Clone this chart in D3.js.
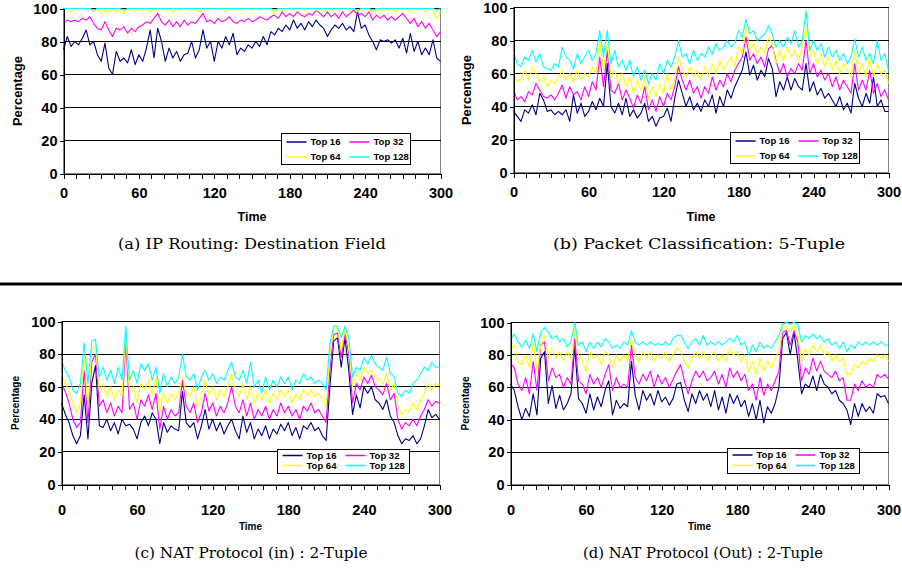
<!DOCTYPE html>
<html>
<head>
<meta charset="utf-8">
<script src="https://cdnjs.cloudflare.com/ajax/libs/d3/7.8.5/d3.min.js"></script>
<style>
body { margin: 0; background: #fff; }
svg { display: block; }
.tick text { font-family: Arial, "Liberation Sans", sans-serif; font-weight: bold; fill: #000; }
</style>
</head>
<body>
<svg id="chart" width="902" height="569"></svg>
<script>
// samples every 3 time units, 0..300
var time = d3.range(0, 301, 3);
var yTicks = [0, 20, 40, 60, 80, 100];
var xLabels = [0, 60, 120, 180, 240, 300];
var seriesNames = ["Top 16", "Top 32", "Top 64", "Top 128"];
var seriesColors = ["#000080", "#ff00ff", "#ffff00", "#00ffff"];

// (a) IP routing
var ipTop16 = [75,83,77,80,78,82,87,78,80,72, 68,79,64,60,74,68,70,67,75,66, 72,68,76,87,70,88,80,68,76,70,
  74,68,72,73,80,70,75,87,76,80, 68,80,76,83,78,85,72,76,74,78, 76,80,77,83,78,86,84,88,86,90,
  87,93,88,91,87,92,89,93,90,88, 83,87,90,88,91,87,89,86,98,88, 90,84,80,75,81,80,81,79,81,76,
  82,73,85,74,80,72,76,72,81,70, 68];
var ipTop32 = [91,93,92,93,92,94,93,95,91,88, 87,92,87,83,88,87,89,85,88,86, 89,90,92,91,94,97,92,90,93,89,
  92,89,93,90,92,91,94,97,92,93, 91,94,92,93,95,92,91,93,92,94, 92,93,95,94,93,95,96,94,98,95,
  97,95,98,96,95,97,96,99,97,95, 98,95,97,94,98,95,97,99,96,97, 95,98,93,96,94,96,93,95,93,95,
  97,94,91,94,89,92,88,91,87,83, 86];
var ipTop64 = [99,100,98,100,99,100,99,100,98,100, 97,99,98,100,98,99,97,100,99,98, 100,99,100,98,100,99,100,99,100,98,
  100,99,100,100,99,100,98,100,99,100, 100,99,100,98,100,99,100,99,100,100, 99,100,99,100,100,99,97,100,99,100,
  100,99,100,100,99,100,100,99,100,98, 100,99,100,99,100,100,99,100,98,100, 99,100,97,100,99,100,99,100,98,100,
  99,100,98,100,99,100,98,100,99,94, 98];
var ipTop128 = [100,100,100,100,100,100,100,100,99,100, 100,100,100,100,100,100,99,100,100,100, 100,100,100,100,100,100,100,100,100,100,
  100,100,100,100,100,100,100,100,100,100, 100,100,100,100,100,100,100,100,100,100, 100,100,100,100,100,100,99,100,100,100,
  100,100,100,100,100,100,100,100,100,100, 100,100,100,100,100,100,100,100,99,100, 100,100,99,100,100,100,100,100,100,100,
  100,100,100,100,100,100,100,100,100,99, 100];

// (b) packet classification
var pcTop16 = [37,34,31,38,36,41,35,48,44,37, 38,35,37,35,38,31,47,36,42,34, 37,43,38,45,40,66,40,36,42,35,
  45,34,38,33,36,42,31,34,28,33, 34,39,31,45,56,48,40,46,38,42, 37,44,40,47,36,46,40,50,45,52,
  57,62,73,59,65,56,62,58,69,63, 46,55,50,58,50,57,52,50,66,49, 55,47,51,45,48,44,40,46,38,42,
  36,54,45,40,48,42,58,40,44,37, 37];
var pcTop32 = [50,44,46,43,49,47,54,50,46,45, 47,44,48,53,45,52,47,49,44,52, 46,55,50,70,52,74,50,48,54,44,
  50,45,39,47,42,52,38,44,37,46, 40,48,44,52,64,56,50,56,48,52, 45,52,48,58,50,56,52,60,55,62,
  66,70,82,68,72,66,70,64,75,77, 68,60,66,58,63,60,66,62,80,60, 66,58,62,56,60,52,58,50,56,52,
  48,66,50,56,50,62,48,54,46,50, 44];
var pcTop64 = [60,55,57,62,56,64,60,55,58,52, 56,54,58,62,56,60,55,62,56,60, 58,64,60,80,62,78,58,62,54,60,
  52,58,48,56,50,58,44,52,46,54, 48,60,50,56,70,62,58,64,58,62, 56,64,58,66,60,68,62,66,70,64,
  76,72,88,74,78,72,76,72,82,78, 66,74,68,76,70,74,68,76,88,70, 74,66,72,64,70,62,68,60,66,62,
  58,74,60,66,58,70,58,66,60,62, 54];
var pcTop128 = [73,66,64,70,68,74,67,72,64,63, 62,66,64,76,70,68,63,72,66,70, 74,68,72,86,70,86,66,74,64,68,
  62,68,58,64,56,62,54,60,56,66, 60,68,64,70,80,70,72,66,74,68, 72,70,76,72,78,74,76,80,76,78,
  86,82,93,84,86,80,82,84,89,84, 76,80,76,82,78,86,76,80,98,74, 80,74,78,70,76,70,74,68,72,66,
  70,81,70,76,68,72,66,80,68,72, 62];

// (c) NAT protocol in
var natInTop16 = [50,43,38,30,25,30,55,28,62,73, 36,35,40,33,38,31,40,36,37,34, 28,38,42,36,44,40,25,38,32,36,
  34,33,57,38,35,38,28,36,46,34, 40,33,38,31,36,40,33,28,42,32, 38,28,34,30,36,28,34,31,37,33,
  38,30,35,28,36,34,38,33,35,30, 27,60,88,90,72,90,70,43,55,47, 60,56,60,52,50,46,52,42,38,30,
  25,28,27,30,25,28,36,46,41,43, 40];
var natInTop32 = [62,57,50,40,35,38,70,38,75,80, 48,52,44,50,42,48,44,88,46,50, 40,52,48,55,46,56,34,48,40,46,
  42,44,64,48,44,50,38,44,56,45, 50,42,48,44,50,60,48,44,52,42, 50,40,46,42,48,40,46,42,50,44,
  48,42,46,40,48,45,50,44,46,42, 38,70,92,93,78,93,80,50,62,58, 66,62,67,60,58,55,62,52,56,40,
  34,38,36,40,36,42,46,52,48,51, 50];
var natInTop64 = [68,62,58,50,44,50,78,48,82,85, 58,62,54,60,52,58,54,92,56,60, 50,62,58,64,55,66,44,56,50,56,
  52,56,66,56,54,60,48,54,64,55, 60,52,58,54,60,68,58,54,62,52, 60,50,56,52,58,50,56,52,58,54,
  58,50,56,52,58,55,58,54,56,52, 48,80,95,96,82,95,84,60,68,64, 72,68,70,66,64,62,68,58,62,48,
  43,46,45,50,46,52,56,62,58,62, 61];
var natInTop128 = [76,70,66,58,56,62,87,62,88,89, 66,72,64,70,62,72,64,97,64,70, 62,74,70,74,64,72,56,68,60,66,
  62,66,80,66,64,68,58,66,70,64, 68,62,66,64,70,75,66,64,70,62, 75,60,64,56,66,58,64,60,66,62,
  66,58,64,62,68,64,66,62,64,62, 58,86,97,97,90,97,90,66,72,70, 78,74,79,74,72,70,78,68,66,56,
  54,58,56,62,64,68,72,70,75,72, 72];

// (d) NAT protocol out
var natOutTop16 = [62,58,48,40,47,42,56,43,78,82, 50,61,47,55,46,50,56,85,53,50, 44,56,46,54,48,58,64,43,52,47,
  50,48,76,55,46,58,52,56,49,58, 51,54,49,53,62,63,52,45,56,50, 58,52,56,48,58,46,54,44,56,50,
  55,48,52,42,50,40,52,38,48,44, 50,60,90,94,80,94,77,56,62,60, 67,58,68,62,60,56,58,52,50,46,
  37,50,42,50,45,48,44,56,54,55, 50];
var natOutTop32 = [75,72,62,58,66,56,76,58,86,88, 64,72,66,68,60,66,62,90,64,62, 56,68,62,66,60,68,74,58,66,60,
  62,60,86,66,62,68,64,70,60,68, 62,66,60,65,70,74,64,56,64,70, 66,70,64,66,70,62,68,60,72,66,
  70,64,68,58,62,52,66,55,62,58, 64,70,94,95,86,95,88,64,72,68, 78,70,76,70,68,66,70,64,66,52,
  52,62,58,64,60,62,60,68,66,68, 65];
var natOutTop64 = [84,86,76,74,80,72,88,70,86,92, 78,84,78,82,76,82,78,96,80,76, 70,82,78,80,74,82,80,72,80,76,
  80,76,90,80,76,82,78,82,76,80, 78,82,76,80,84,82,76,72,78,82, 78,82,76,80,82,76,80,76,84,80,
  82,76,80,70,76,68,78,70,76,72, 78,82,97,98,94,98,93,76,84,80, 86,82,86,80,82,76,80,76,78,68,
  68,74,72,76,74,78,76,80,78,80, 76];
var natOutTop128 = [90,93,88,85,89,84,93,82,94,97, 94,90,92,88,90,85,88,100,86,88, 82,88,84,88,85,90,88,84,86,84,
  88,86,95,88,86,88,86,88,86,87, 86,88,86,90,92,92,88,84,88,90, 86,92,86,88,86,88,86,88,90,88,
  92,86,88,80,86,82,88,84,86,84, 88,92,99,100,99,100,99,88,92,90, 93,90,92,88,90,86,88,84,88,82,
  86,84,88,86,88,86,88,86,88,86, 86];

var svg = d3.select("#chart");

var panels = [
  { series: [ipTop16, ipTop32, ipTop64, ipTop128], caption: "(a) IP Routing: Destination Field",
    left: 63.5, right: 440.5, top: 8.5, bottom: 173.5, tickPad: 9.5, yLabelX: 17, yLabelSize: 13,
    timeY: 217, timeSize: 12.5, captionY: 249, captionX: 252, captionW: 268,
    legend: { x: 281.5, y: 133.5, w: 129, h: 31, r1: 142, r2: 157 } },
  { series: [pcTop16, pcTop32, pcTop64, pcTop128], caption: "(b) Packet Classification: 5-Tuple",
    left: 513.5, right: 888.5, top: 7.5, bottom: 172.5, tickPad: 9.5, yLabelX: 466, yLabelSize: 13,
    timeY: 217, timeSize: 12.5, captionY: 249, captionX: 699, captionW: 292,
    legend: { x: 730.5, y: 132.5, w: 129, h: 31, r1: 141, r2: 156 } },
  { series: [natInTop16, natInTop32, natInTop64, natInTop128], caption: "(c) NAT Protocol (in) : 2-Tuple",
    left: 61.5, right: 439.5, top: 321.5, bottom: 484.5, tickPad: 15, yLabelX: 15.5, yLabelSize: 10,
    timeY: 526, timeSize: 10, captionY: 558, captionX: 251, captionW: 233,
    legend: { x: 277.5, y: 449.5, w: 132, h: 24, r1: 455.5, r2: 465.5 } },
  { series: [natOutTop16, natOutTop32, natOutTop64, natOutTop128], caption: "(d) NAT Protocol (Out) : 2-Tuple",
    left: 510.5, right: 888.5, top: 322.5, bottom: 484.5, tickPad: 15, yLabelX: 465, yLabelSize: 10,
    timeY: 526, timeSize: 10, captionY: 558, captionX: 703, captionW: 240,
    legend: { x: 727.5, y: 448.5, w: 132, h: 25, r1: 455, r2: 465.5 } }
];

function drawPanel(p) {
  var g = svg.append("g");
  var x = d3.scaleLinear().domain([0, 300]).range([p.left, p.right]);
  var y = d3.scaleLinear().domain([0, 100]).range([p.bottom, p.top]);

  // frame, right side is gray
  g.append("rect")
    .attr("x", p.left).attr("y", p.top)
    .attr("width", p.right - p.left).attr("height", p.bottom - p.top)
    .attr("fill", "none").attr("stroke", "#808080");

  // gridlines
  g.selectAll(".grid")
    .data(yTicks.filter(function (v) { return v > 0; }))
    .enter().append("line")
    .attr("x1", p.left).attr("x2", p.right)
    .attr("y1", function (d) { return y(d); })
    .attr("y2", function (d) { return y(d); })
    .attr("stroke", "#000").attr("stroke-width", 1)
    .style("shape-rendering", "crispEdges");

  // the lines, Top 16 first so Top 128 ends on top
  var line = d3.line()
    .x(function (d, i) { return x(time[i]); })
    .y(function (d) { return y(d); });

  p.series.forEach(function (s, i) {
    g.append("path")
      .datum(s)
      .attr("d", line)
      .attr("fill", "none")
      .attr("stroke", seriesColors[i])
      .attr("stroke-width", 1.1)
      .attr("stroke-linejoin", "round");
  });

  // axes
  var xAxis = d3.axisBottom(x)
    .tickValues(d3.range(0, 301, 10))
    .tickSize(5)
    .tickPadding(p.tickPad)
    .tickFormat(function (d) { return xLabels.indexOf(d) >= 0 ? d : ""; });
  var gx = g.append("g").attr("transform", "translate(0," + p.bottom + ")").call(xAxis);
  gx.selectAll("text").style("font-size", "14.5px");

  var yAxis = d3.axisLeft(y).tickValues(yTicks).tickSize(4).tickPadding(2);
  var gy = g.append("g").attr("transform", "translate(" + p.left + ",0)").call(yAxis);
  gy.selectAll("text").style("font-size", "14.5px");

  [gx, gy].forEach(function (a) {
    a.select(".domain").attr("stroke", "#000").style("shape-rendering", "crispEdges");
    a.selectAll(".tick line").attr("stroke", "#000").style("shape-rendering", "crispEdges");
  });

  g.append("text")
    .attr("transform", "translate(" + p.yLabelX + "," + ((p.top + p.bottom) / 2) + ") rotate(-90)")
    .attr("text-anchor", "middle").attr("dy", "0.35em")
    .style("font-family", "Arial, 'Liberation Sans', sans-serif")
    .style("font-weight", "bold").style("font-size", p.yLabelSize + "px")
    .text("Percentage");

  g.append("text")
    .attr("x", (p.left + p.right) / 2).attr("y", p.timeY)
    .attr("text-anchor", "middle").attr("dy", "0.35em")
    .style("font-family", "Arial, 'Liberation Sans', sans-serif")
    .style("font-weight", "bold").style("font-size", p.timeSize + "px")
    .text("Time");

  // legend
  var L = p.legend;
  var lg = g.append("g");
  lg.append("rect")
    .attr("x", L.x).attr("y", L.y).attr("width", L.w).attr("height", L.h)
    .attr("fill", "#fff").attr("stroke", "#000")
    .style("shape-rendering", "crispEdges");
  seriesNames.forEach(function (name, i) {
    var cx = L.x + (i % 2 === 0 ? 5 : 68);
    var cy = i < 2 ? L.r1 : L.r2;
    lg.append("line")
      .attr("x1", cx).attr("x2", cx + 20)
      .attr("y1", cy).attr("y2", cy)
      .attr("stroke", seriesColors[i]).attr("stroke-width", 1.5);
    lg.append("text")
      .attr("x", cx + 24).attr("y", cy).attr("dy", "0.35em")
      .style("font-family", "Arial, 'Liberation Sans', sans-serif")
      .style("font-weight", "bold").style("font-size", "9.5px")
      .text(name);
  });

  // caption under the chart
  g.append("text")
    .attr("x", p.captionX).attr("y", p.captionY)
    .attr("text-anchor", "middle")
    .attr("textLength", p.captionW)
    .attr("lengthAdjust", "spacingAndGlyphs")
    .style("font-family", "'DejaVu Serif', 'Liberation Serif', serif")
    .style("font-size", "15px")
    .text(p.caption);
}

panels.forEach(drawPanel);

// rule between the two rows
svg.append("rect")
  .attr("x", 0).attr("y", 282.5)
  .attr("width", 902).attr("height", 3)
  .attr("fill", "#000");
</script>
</body>
</html>
